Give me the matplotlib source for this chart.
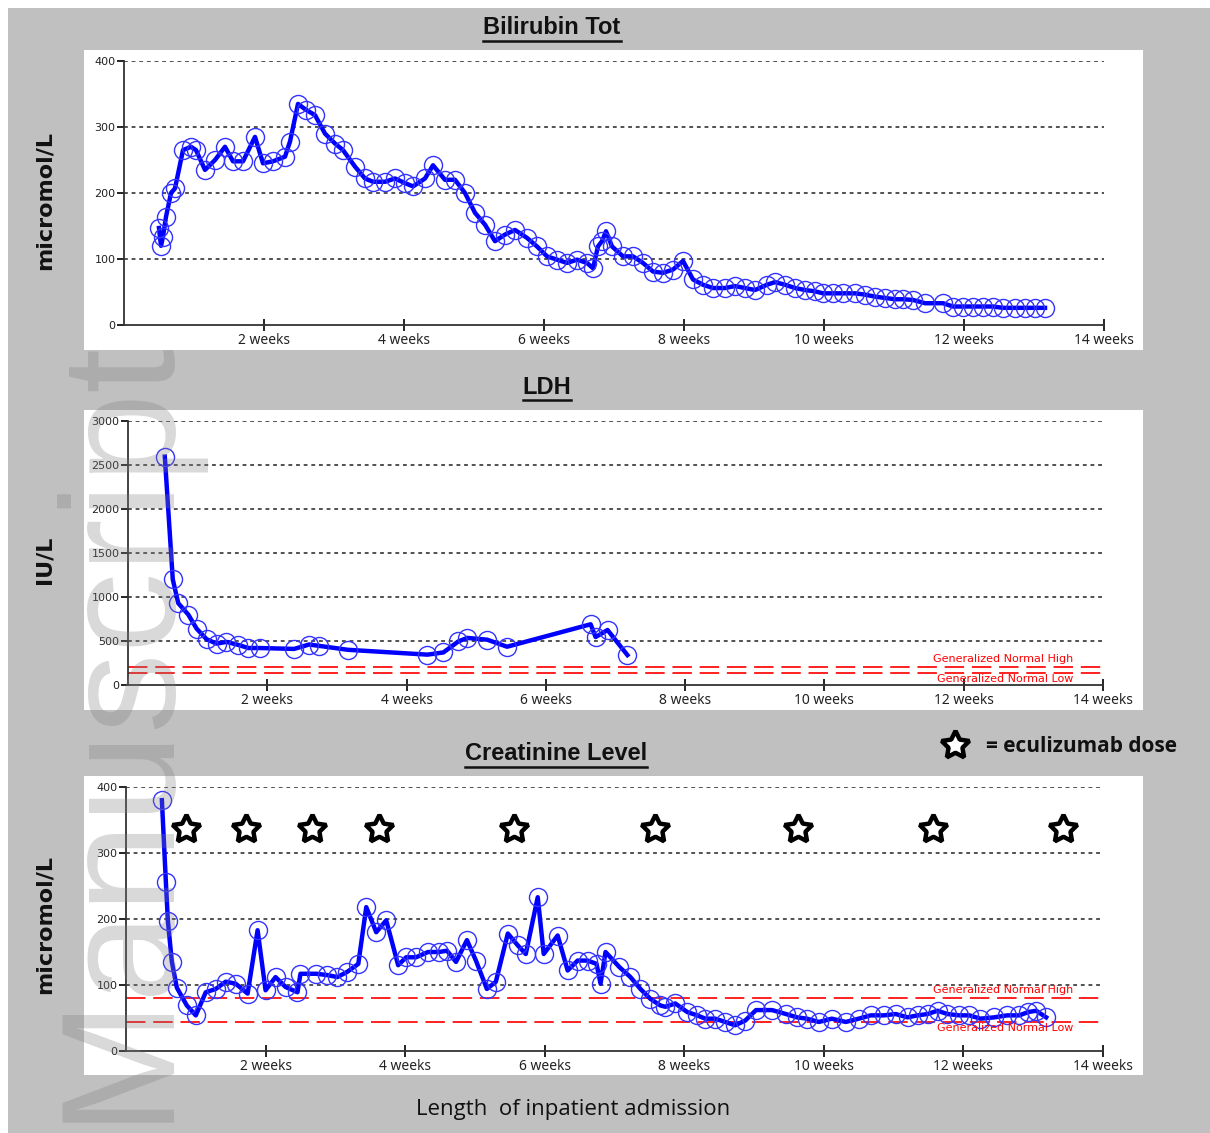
import matplotlib
matplotlib.use('Agg')
import matplotlib.pyplot as plt
from matplotlib.lines import Line2D
from matplotlib.patches import Rectangle

# ---- dados (x em dias de internamento) ----
bili_dias = [3.5, 3.7, 3.9, 4.2, 4.7, 5.1, 5.9, 6.7, 7.2, 8.1, 9.1, 10.1, 10.9, 11.9, 13.1, 13.9,
             14.9, 16.1, 16.6, 17.4, 18.2, 19.1, 20.1, 21.1, 21.9, 23.1, 24.1, 24.9, 26.1, 27.1,
             28.1, 28.9, 30.1, 30.9, 32.1, 33.1, 34.1, 35.1, 36.1, 37.1, 38.1, 39.1, 40.3, 41.3,
             42.3, 43.3, 44.3, 45.3, 46.3, 46.9, 47.4, 47.8, 48.2, 48.8, 49.9, 50.9, 51.9, 52.9,
             53.9, 54.9, 55.9, 56.9, 57.9, 58.9, 60.1, 61.1, 62.1, 63.1, 64.3, 65.1, 66.1, 67.1,
             68.1, 69.1, 69.9, 70.9, 71.9, 73.1, 74.1, 75.1, 76.1, 77.1, 77.9, 78.9, 80.1, 81.9,
             82.9, 83.9, 84.9, 85.9, 86.9, 87.9, 89.1, 90.1, 91.1, 92.1]
bili_vals = [147, 120, 134, 164, 200, 207, 265, 270, 265, 235, 250, 270, 248, 248, 285, 245,
             248, 255, 278, 335, 326, 318, 290, 275, 265, 240, 222, 217, 217, 222,
             215, 210, 222, 242, 220, 220, 200, 170, 152, 127, 137, 144, 132, 119,
             104, 99, 94, 99, 94, 86, 119, 127, 142, 119, 104, 104, 94, 81,
             79, 84, 97, 69, 61, 56, 56, 59, 56, 53, 61, 65, 61, 56,
             53, 51, 48, 48, 48, 48, 46, 43, 41, 39, 39, 38, 33, 33,
             28, 28, 28, 28, 28, 26, 26, 26, 26, 26]

ldh_dias = [3.7, 4.5, 5.05, 6.06, 6.9, 7.9, 8.9, 9.9, 11.1, 12.1, 13.3, 16.7, 18.2, 19.2, 22.1,
            30.1, 31.7, 33.2, 34.1, 36.1, 38.1, 46.5, 47.0, 48.2, 50.2]
ldh_vals = [2595, 1200, 930, 800, 640, 520, 470, 490, 455, 420, 420, 410, 460, 445, 400,
            345, 370, 495, 535, 515, 435, 690, 545, 625, 340]

creat_dias = [3.6, 4.0, 4.2, 4.6, 5.1, 6.1, 7.0, 8.0, 9.0, 10.0, 11.0, 12.2, 13.2, 14.0, 15.0,
              16.0, 17.2, 17.5, 19.1, 20.2, 21.2, 22.2, 23.3, 24.1, 25.1, 26.1, 27.3, 28.1, 29.1,
              30.3, 31.4, 32.2, 33.1, 34.2, 35.1, 36.2, 37.1, 38.3, 39.3, 40.1, 41.3, 41.9, 43.3,
              44.3, 45.3, 46.3, 47.2, 47.6, 48.1, 49.5, 50.6, 51.6, 52.6, 53.6, 54.1, 55.1, 56.3,
              57.3, 58.1, 59.1, 60.1, 61.1, 62.1, 63.2, 64.8, 66.2, 67.3, 68.3, 69.5, 70.8, 72.2,
              73.5, 74.7, 76.0, 77.2, 78.4, 79.4, 80.4, 81.4, 82.4, 83.6, 84.6, 85.7, 87.1, 88.4,
              89.6, 90.5, 91.3, 92.3]
creat_vals = [380, 256, 197, 135, 96, 69, 54, 89, 94, 105, 102, 87, 183, 92, 112,
              97, 89, 117, 117, 115, 112, 120, 132, 218, 180, 198, 130, 142, 142,
              150, 150, 152, 135, 168, 137, 94, 105, 178, 160, 147, 233, 147, 175,
              122, 137, 137, 132, 102, 150, 127, 112, 94, 79, 69, 67, 72, 59,
              54, 49, 49, 44, 39, 46, 62, 62, 56, 51, 49, 44, 49, 44,
              49, 54, 54, 56, 51, 54, 56, 61, 56, 54, 54, 49, 51, 54,
              54, 59, 61, 51]

doses_dias = [6.0, 12.0, 18.7, 25.4, 38.9, 53.1, 67.4, 80.9, 94.0]
doses_nivel = 337

semanas = [2, 4, 6, 8, 10, 12, 14]
semanas_labels = [f'{s} weeks' for s in semanas]

ldh_normal = (140, 210)
creat_normal = (44, 80)

W, H = 1210, 1133
fig = plt.figure(figsize=(W / 100, H / 100), dpi=100)
fig.patch.set_facecolor('white')


def caixa(x0, y0, x1, y1, cor):
    # retângulo em pixels (origem no canto superior esquerdo)
    fig.add_artist(Rectangle((x0 / W, 1 - y1 / H), (x1 - x0) / W, (y1 - y0) / H,
                             transform=fig.transFigure, facecolor=cor, edgecolor='none', zorder=0))


caixa(8, 8, W, H, '#c0c0c0')
for y0, y1 in [(50, 350), (410, 710), (776, 1075)]:
    caixa(84, y0, 1143, y1, 'white')


def novo_eixo(x0, x1, ytop, ybot, ymax, ystep):
    ax = fig.add_axes([x0 / W, 1 - ybot / H, (x1 - x0) / W, (ybot - ytop) / H])
    ax.set_facecolor('none')
    ax.set_xlim(0, 98)
    ax.set_ylim(0, ymax)
    for s in ['top', 'right']:
        ax.spines[s].set_visible(False)
    for s in ['left', 'bottom']:
        ax.spines[s].set_color('#333333')
        ax.spines[s].set_linewidth(1.3)
    ax.set_xticks([7 * s for s in semanas])
    ax.set_xticklabels(semanas_labels, fontsize=10, family='Noto Sans', color='#222222')
    ax.tick_params(axis='x', direction='inout', length=9, width=1.2, pad=1)
    ax.set_yticks(range(0, ymax + 1, ystep))
    ax.tick_params(axis='y', direction='out', length=5, width=1.2, pad=1, labelsize=8,
                   labelcolor='#222222')
    for y in range(ystep, ymax + 1, ystep):
        ax.axhline(y, color='#222222', lw=1.1, ls=(0, (2.5, 2.5)), zorder=1)
    return ax


def serie(ax, dias, vals):
    ax.plot(dias, vals, color='#0000ff', lw=3.2, zorder=3)
    ax.plot(dias, vals, ls='none', marker='o', ms=13, mfc='none', mec='#3333ff', mew=1.0, zorder=4)


def faixa_normal(ax, baixo, alto, xtxt):
    for v in (baixo, alto):
        ax.axhline(v, color='#ff2020', lw=1.4, ls=(0, (10, 4)), zorder=2)
    ax.annotate('Generalized Normal High', (xtxt, alto), xytext=(0, 2), textcoords='offset points',
                ha='right', va='bottom', color='#ff0000', fontsize=8, family='DejaVu Sans', zorder=5)
    ax.annotate('Generalized Normal Low', (xtxt, baixo), xytext=(0, -1), textcoords='offset points',
                ha='right', va='top', color='#ff0000', fontsize=8, family='DejaVu Sans', zorder=5)


# Bilirrubina
ax1 = novo_eixo(124, 1104, 61, 325, 400, 100)
serie(ax1, bili_dias, bili_vals)

# LDH
ax2 = novo_eixo(128, 1103, 421, 685, 3000, 500)
faixa_normal(ax2, ldh_normal[0], ldh_normal[1], 95.0)
serie(ax2, ldh_dias, ldh_vals)

# Creatinina
ax3 = novo_eixo(126, 1103, 787, 1051, 400, 100)
faixa_normal(ax3, creat_normal[0], creat_normal[1], 95.0)
serie(ax3, creat_dias, creat_vals)
estrela = dict(marker=(5, 1, 0), ms=21, mfc='white', mec='black', mew=3.2, ls='none')
ax3.plot(doses_dias, [doses_nivel] * len(doses_dias), zorder=5, **estrela)

# legenda da estrela
fig.add_artist(Line2D([955 / W], [1 - 745 / H], transform=fig.transFigure, **estrela))
fig.text(986 / W, 1 - 747 / H, '= eculizumab dose', ha='left', va='center',
         fontsize=15, fontweight='bold', family='Open Sans', color='#111111')

# títulos sublinhados
titulos = [('Bilirubin Tot', 552, 28), ('LDH', 547, 388), ('Creatinine Level', 556, 754)]
textos = []
for txt, x, y in titulos:
    t = fig.text(x / W, 1 - y / H, txt, ha='center', va='center', fontsize=17,
                 fontweight='bold', family='Liberation Sans', color='#111111')
    textos.append(t)

for lab, y in [('micromol/L', 200), ('IU/L', 560), ('micromol/L', 925)]:
    fig.text(45 / W, 1 - y / H, lab, rotation=90, ha='center', va='center', fontsize=16,
             fontweight='bold', family='DejaVu Sans', color='#111111')

fig.text(573 / W, 1 - 1110 / H, 'Length  of inpatient admission', ha='center', va='center',
         fontsize=16, fontweight='medium', family='Open Sans', color='#111111')

# marca d'água
fig.text(120 / W, 1 - 728 / H, 'Manuscript', rotation=90, ha='center', va='center',
         fontsize=116, family='Liberation Sans', color='#808080', alpha=0.3, zorder=10)

fig.canvas.draw()
r = fig.canvas.get_renderer()
inv = fig.transFigure.inverted()
for t in textos:
    bb = t.get_window_extent(r)
    (xa, ya), (xb, yb) = inv.transform([(bb.x0, bb.y0), (bb.x1, bb.y0)])
    fig.add_artist(Line2D([xa, xb], [ya - 1 / H, ya - 1 / H], transform=fig.transFigure,
                          color='#111111', lw=1.8))

plt.savefig('out.png', dpi=100)
plt.close()
